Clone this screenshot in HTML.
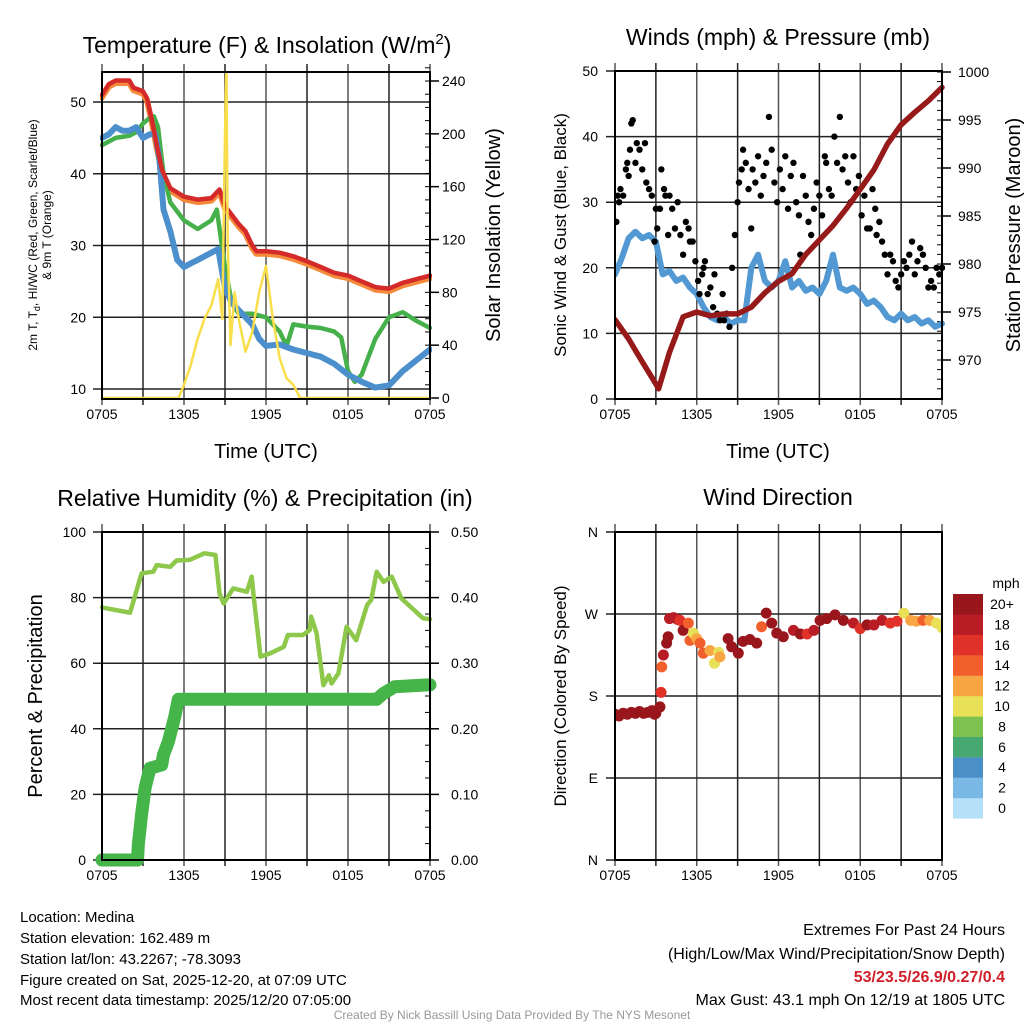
<!DOCTYPE html>
<html><head><meta charset="utf-8">
<style>
html,body{margin:0;padding:0;background:#fff;}
svg{display:block;font-family:"Liberation Sans",Arial,sans-serif;}
</style></head>
<body>
<svg id="fig" width="1024" height="1024" viewBox="0 0 1024 1024" xmlns="http://www.w3.org/2000/svg">
<rect x="0" y="0" width="1024" height="1024" fill="#fff"/>
<g font-size="23" text-anchor="middle" fill="#000">
<text x="267" y="53">Temperature (F) &amp; Insolation (W/m<tspan dy="-9" font-size="15">2</tspan><tspan dy="9">)</tspan></text>
<text x="778" y="45">Winds (mph) &amp; Pressure (mb)</text>
<text x="265" y="506">Relative Humidity (%) &amp; Precipitation (in)</text>
<text x="778" y="505">Wind Direction</text>
</g>
<g font-size="15" fill="#000">
<text x="20" y="922">Location: Medina</text>
<text x="20" y="943">Station elevation: 162.489 m</text>
<text x="20" y="964">Station lat/lon: 43.2267; -78.3093</text>
<text x="20" y="985">Figure created on Sat, 2025-12-20, at 07:09 UTC</text>
<text x="20" y="1005">Most recent data timestamp: 2025/12/20 07:05:00</text>
</g>
<g font-size="16" fill="#000" text-anchor="end">
<text x="1005" y="935">Extremes For Past 24 Hours</text>
<text x="1005" y="959">(High/Low/Max Wind/Precipitation/Snow Depth)</text>
<text x="1005" y="982" fill="#d0202a" font-weight="bold">53/23.5/26.9/0.27/0.4</text>
<text x="1005" y="1005">Max Gust: 43.1 mph On 12/19 at 1805 UTC</text>
</g>
<text x="512" y="1019" font-size="12" fill="#999" text-anchor="middle">Created By Nick Bassill Using Data Provided By The NYS Mesonet</text>
<g id="plots"></g>
</svg>
<script>
// ---------- DATA ----------
const xTickLabels = ['0705','1305','1905','0105','0705'];
// Temperature panel
const redT = [0,0.5,1,2,2.3,2.6,3,3.3,3.7,4,4.4,5,6,7,8,8.6,9,10,10.5,11,11.3,12,13,14,15,16,17,18,19,20,21,22,23,24];
const redV = [51,52.5,53,53,52,51.8,51.5,50.5,47,44,40.5,38,36.8,36.4,36.6,37.8,35.5,33,32,30,29.2,29.2,29,28.5,27.8,27,26.2,25.8,25,24.2,24,24.8,25.3,25.8];
const greenT = [0,1,2,2.5,3,3.5,3.8,4.1,4.5,5,6,7,8,8.4,9,9.5,10,11,12,13,13.5,14,15,16,17,17.5,18,18.5,19,20,21,22,23,24];
const greenV = [44,45,45.3,45.8,47,47.8,48,46.5,40,36,33.5,32.3,33.5,35,27,22,20.5,20.5,20,18,16,19,18.7,18.5,18,17.2,12.5,11,12,17,20,20.7,19.5,18.5];
const blueT = [0,0.5,1,1.5,2,2.5,3,3.5,3.9,4.2,4.5,5,5.5,6,6.5,7,7.5,8,8.5,9,9.5,10,10.5,11,11.5,12,13,14,15,16,17,18,19,20,21,22,23,24];
const blueV = [45,45.5,46.5,46,46,46.5,45,45.5,45.5,42,35,32,28,27,27.5,28,28.5,29,29.5,24,22,21,20,19,17,16,16.2,15.5,15,14.5,13.5,12,11,10.2,10.5,12.5,14,15.5];
const solarT = [0,5.6,6,6.5,7,7.5,8,8.5,8.8,9.0,9.1,9.2,9.4,9.7,10,10.5,11,11.5,12,12.5,13,13.5,14,14.5,24];
const solarV = [0,0,10,25,45,60,70,90,60,200,254,120,40,80,60,35,50,80,100,60,30,15,10,0,0];
const tempTicks = [10,20,30,40,50];
const solarTicks = [0,40,80,120,160,200,240];
// Winds panel
const presT = [0,1,2,3,3.2,4,5,6,7,8,9,10,11,12,13,14,15,16,17,18,19,20,21,22,23,24];
const presV = [974.2,972.2,969.8,967.5,967,970.8,974.5,975,974.6,974.8,974.8,975.5,977,978.2,979,981,982.5,984,985.8,987.8,989.8,992.5,994.5,995.8,997,998.4];
const windT = [0,0.5,1,1.5,2,2.5,3,3.5,4,4.5,5,5.5,6,6.5,7,7.5,8,8.5,9,9.5,10,10.5,11,11.5,12,12.5,13,13.5,14,14.5,15,15.5,16,16.5,17,17.5,18,18.5,19,19.5,20,20.5,21,21.5,22,22.5,23,23.5,24];
const windV = [19,21.5,24.5,25.5,24.5,25,24,19,19.5,18,18.5,17,16,14,12.5,12,12.5,11.5,12,12,20,22,18,17,18,21,17,18,16.5,17,16,18,22,17,16.5,17,16,14.5,15,14,12.5,12,13,12,12.5,11.5,12,11,11.5];
const gustT = [0.1,0.2,0.3,0.4,0.6,0.8,0.9,1.0,1.1,1.2,1.3,1.5,1.6,1.8,2.0,2.2,2.3,2.5,2.7,2.9,3.0,3.1,3.3,3.4,3.6,3.7,3.9,4.0,4.2,4.4,4.6,4.8,5.0,5.2,5.4,5.5,5.7,5.9,6.1,6.2,6.4,6.5,6.6,6.8,7.0,7.2,7.3,7.5,7.7,7.9,8.0,8.2,8.4,8.6,8.8,9.0,9.1,9.3,9.4,9.6,9.8,10.0,10.1,10.3,10.5,10.7,10.9,11.1,11.3,11.5,11.7,11.9,12.1,12.3,12.5,12.7,12.9,13.1,13.3,13.5,13.6,13.8,14.0,14.2,14.4,14.6,14.8,15.0,15.2,15.4,15.5,15.7,15.9,16.1,16.3,16.5,16.7,16.9,17.1,17.3,17.5,17.7,17.9,18.1,18.3,18.5,18.7,18.9,19.1,19.2,19.4,19.6,19.8,20.0,20.2,20.4,20.6,20.8,21.0,21.2,21.4,21.6,21.8,22.0,22.2,22.4,22.6,22.8,23.0,23.2,23.4,23.6,23.8,24.0];
const gustV = [27,31,30,32,31,35,36,34,38,42,42.5,36,39,38,35,39,33,32,31,24,29,26,29,35,32,31,25,31,29,26,30,25,22,27,26,24,24,21,18,16,19,20,21,16,17,14,19,13,12,16,12,13,11,20,25,30,33,35,38,36,32,26,35,33,37,31,34,36,43,38,33,30,35,32,37,29,34,36,30,28,22,34,31,27,25,29,33,31,28,37,36,32,31,40,36,43,35,37,33,30,37,32,34,28,31,26,26,32,29,25,27,24,22,19,22,21,18,17,19,21,20,22,24,19,21,23,22,20,17,18,17,20,19,20];
const windTicks = [0,10,20,30,40,50];
const presTicks = [970,975,980,985,990,995,1000];
// Humidity panel
const rhT = [0,2.05,2.4,2.9,3.75,4.0,5.0,5.46,6.4,7.5,8.3,8.6,8.9,9.6,10.6,10.95,11.1,11.6,12.3,13.3,13.6,14.7,15.2,15.3,15.7,16.2,16.6,16.8,17.3,17.9,18.6,19.4,19.7,20.1,20.6,21.2,21.9,22.7,23.5,24];
const rhV = [77,75.4,80.3,87.4,87.9,89.9,89.4,91.3,91.5,93.5,93,81.3,78.2,82.8,81.8,86.4,80.3,62,63,65,68.6,68.6,70.1,74.2,69.1,53.3,56.3,53.8,56.9,71.1,67,77.7,79.3,87.9,84.8,86.4,79.8,76.7,73.7,73.4];
const prT = [0,2.6,2.66,2.78,2.9,3.15,3.51,4.37,4.49,4.85,5.1,5.34,5.58,20.1,20.6,21.4,24];
const prV = [0,0,0.025,0.047,0.07,0.11,0.14,0.145,0.16,0.18,0.2,0.22,0.245,0.245,0.254,0.264,0.267];
const rhTicks = [0,20,40,60,80,100];
const prTicks = ['0.00','0.10','0.20','0.30','0.40','0.50'];
// Wind direction panel
const dirT = [0,0.3,0.6,0.9,1.2,1.5,1.8,2.1,2.4,2.7,2.9,3.0,3.3,3.38,3.43,3.55,3.79,3.9,4.0,4.3,4.6,4.77,5.0,5.38,5.5,5.75,6.0,6.24,6.48,6.97,7.3,7.6,7.7,8.3,8.56,9.05,9.4,9.9,10.4,10.76,11.1,11.5,11.87,12.35,13.1,13.6,14.1,14.6,15.05,15.54,16.15,16.76,17.5,18.0,18.5,19.0,19.6,20.2,20.7,21.2,21.7,22.1,22.6,23.1,23.6,24.0];
const dirV = [160,158,161,160,162,161,163,161,162,164,160,161,168,184,212,225,238,245,265,266,264,263,252,260,241,249,243,238,227,230,216,228,223,243,234,227,240,242,238,256,271,260,249,245,252,248,248,252,263,265,269,263,260,254,258,258,263,260,262,271,263,262,263,263,260,255];
const dirS = [20,20,20,20,20,20,20,20,20,20,20,20,20,16,14,18,20,20,18,18,18,16,20,14,14,10,12,14,14,12,10,10,12,20,20,20,20,20,20,14,20,20,20,20,18,20,16,18,20,20,20,20,18,16,20,18,18,16,16,10,12,12,14,12,10,10];
const dirTickLabels = ['N','E','S','W','N'];
const cbarLabels = ['0','2','4','6','8','10','12','14','16','18','20+'];
const cbarColors = ['#b5e0f7','#7ab8e6','#4a8fc6','#48a872','#7dc24e','#e8e057','#f7a643','#f1602c','#e03228','#b81c24','#99171c'];

// ---------- HELPERS ----------
const NS = 'http://www.w3.org/2000/svg';
const root = document.getElementById('plots');
function mk(tag, attrs, parent) {
  const e = document.createElementNS(NS, tag);
  for (const k in attrs) e.setAttribute(k, attrs[k]);
  (parent || root).appendChild(e);
  return e;
}
function lin(d0, d1, r0, r1) { return v => r0 + (v - d0) * (r1 - r0) / (d1 - d0); }
function pathD(ts, vs, fx, fy) { return ts.map((t, i) => (i ? 'L' : 'M') + fx(t).toFixed(1) + ',' + fy(vs[i]).toFixed(1)).join(''); }
function colorFor(s) { const i = Math.min(10, Math.max(0, Math.floor(s / 2))); return cbarColors[i]; }

function frame(x0, x1, y0, y1, name) {
  const g = mk('g', {});
  
  
  const fx = lin(0, 24, x0, x1);
  for (let h = 0; h <= 24; h += 3) {
    const x = fx(h);
    const l = mk('line', {x1: x, y1: y0 - 8, x2: x, y2: y1 + 6, stroke: h % 6 ? '#222' : '#555', 'stroke-width': 1.5}, g);
    
    
  }
  xTickLabels.forEach((s, i) => {
    const t = mk('text', {x: fx(i * 6), y: y1 + 20, 'font-size': 14, 'text-anchor': 'middle'}, g);
    t.textContent = s;
    
    
  });
  return {g, fx};
}
function border(x0, x1, y0, y1, g) {
  const r = mk('rect', {x: x0, y: y0, width: x1 - x0, height: y1 - y0, fill: 'none', stroke: '#000', 'stroke-width': 2}, g);
  
  
}
function hgrid(vals, fy, x0, x1, g, labels, lx) {
  vals.forEach((v, i) => {
    const y = fy(v);
    const l = mk('line', {x1: x0 - 9, y1: y, x2: x1, y2: y, stroke: '#222', 'stroke-width': 1.5}, g);
    
    
    const t = mk('text', {x: lx, y: y + 5, 'font-size': 14, 'text-anchor': 'end'}, g);
    t.textContent = labels ? labels[i] : v;
    
    
  });
}
function rticks(vals, fy, x1, g, lx, minorStep, lo, hi) {
  for (let v = lo; v <= hi + 1e-9; v += minorStep) {
    const y = fy(v);
    mk('line', {x1: x1 - 5, y1: y, x2: x1, y2: y, stroke: '#000', 'stroke-width': 1}, g);
  }
  vals.forEach(v => {
    const y = fy(typeof v === 'string' ? parseFloat(v) : v);
    mk('line', {x1: x1, y1: y, x2: x1 + 9, y2: y, stroke: '#000', 'stroke-width': 1.5}, g);
    const t = mk('text', {x: lx, y: y + 5, 'font-size': 14}, g);
    t.textContent = v;
    
    
  });
}
function rotText(txt, x, y, size, g, name) {
  const t = mk('text', {x: 0, y: 0, 'font-size': size, 'text-anchor': 'middle', transform: `translate(${x},${y}) rotate(-90)`}, g);
  t.textContent = txt;
  
  
  return t;
}
function axTitle(txt, x, y, g) {
  const t = mk('text', {x, y, 'font-size': 20, 'text-anchor': 'middle'}, g);
  t.textContent = txt;
  
  
}

// ---------- PANEL 1: Temperature ----------
(function () {
  const x0 = 102, x1 = 430, y0 = 72, y1 = 399;
  const {g, fx} = frame(x0, x1, y0, y1, 'temperature-panel');
  const fy = lin(10, 50, 389, 102);
  const fs = lin(0, 240, 398, 81);
  hgrid(tempTicks, fy, x0, x1, g, null, 86);
  rticks(solarTicks, fs, x1, g, 442, 10, 0, 250);
  const clip = mk('clipPath', {id: 'c1'}, g);
  mk('rect', {x: x0 - 2, y: y0, width: x1 - x0 + 4, height: y1 - y0 + 3}, clip);
  const s = mk('g', {'clip-path': 'url(#c1)', fill: 'none', 'stroke-linejoin': 'round', 'stroke-linecap': 'round'}, g);
  const orange = mk('path', {d: pathD(redT, redV.map(v => v - 0.35), fx, fy), stroke: '#f58a3a', 'stroke-width': 6}, s);
  
  
  const green = mk('path', {d: pathD(greenT, greenV, fx, fy), stroke: '#46b04a', 'stroke-width': 4.5}, s);
  
  
  const blue = mk('path', {d: pathD(blueT, blueV, fx, fy), stroke: '#4b8fcc', 'stroke-width': 6}, s);
  
  
  const red = mk('path', {d: pathD(redT, redV, fx, fy), stroke: '#d42a2a', 'stroke-width': 4.5}, s);
  
  
  const yel = mk('path', {d: pathD(solarT, solarV, fx, fs), stroke: '#f8de4a', 'stroke-width': 2.5}, s);
  
  
  border(x0, x1, y0, y1, g);
  axTitle('Time (UTC)', 266, 458, g);
  const yt = mk('text', {x: 0, y: 0, 'font-size': 12, 'text-anchor': 'middle', transform: 'translate(37,235) rotate(-90)'}, g);
  
  
  yt.innerHTML = '2m T, T<tspan font-size="9" dy="3">d</tspan><tspan dy="-3">, HI/WC (Red, Green, Scarlet/Blue)</tspan>';
  rotText('& 9m T (Orange)', 51, 235, 12, g, 'temperature-y-axis-title-line2');
  rotText('Solar Insolation (Yellow)', 500, 235, 20, g, 'solar-y-axis-title');
})();

// ---------- PANEL 2: Winds ----------
(function () {
  const x0 = 615, x1 = 942, y0 = 71, y1 = 399;
  const {g, fx} = frame(x0, x1, y0, y1, 'winds-panel');
  const fy = lin(0, 50, 399, 71);
  const fp = lin(970, 1000, 360, 72);
  hgrid(windTicks, fy, x0, x1, g, null, 598);
  rticks(presTicks, fp, x1, g, 958, 1, 967, 1000);
  const clip = mk('clipPath', {id: 'c2'}, g);
  mk('rect', {x: x0, y: y0, width: x1 - x0 + 3, height: y1 - y0}, clip);
  const s = mk('g', {'clip-path': 'url(#c2)', fill: 'none', 'stroke-linejoin': 'round', 'stroke-linecap': 'round'}, g);
  const wl = mk('path', {d: pathD(windT, windV, fx, fy), stroke: '#5299d4', 'stroke-width': 6}, s);
  
  
  gustT.forEach((t, i) => {
    const c = mk('circle', {cx: fx(t), cy: fy(gustV[i]), r: 3.2, fill: '#000'}, s);
    
    
  });
  const pl = mk('path', {d: pathD(presT, presV, fx, fp), stroke: '#971a1a', 'stroke-width': 5.5}, s);
  
  
  border(x0, x1, y0, y1, g);
  axTitle('Time (UTC)', 778, 458, g);
  rotText('Sonic Wind & Gust (Blue, Black)', 566, 235, 17, g, 'wind-y-axis-title');
  rotText('Station Pressure (Maroon)', 1020, 235, 20, g, 'pressure-y-axis-title');
})();

// ---------- PANEL 3: Humidity ----------
(function () {
  const x0 = 102, x1 = 430, y0 = 532, y1 = 860;
  const {g, fx} = frame(x0, x1, y0, y1, 'humidity-panel');
  const fy = lin(0, 100, 860, 532);
  const fpr = lin(0, 0.5, 860, 532);
  hgrid(rhTicks, fy, x0, x1, g, null, 86);
  rticks(prTicks, fpr, x1, g, 451, 0.025, 0, 0.5);
  const clip = mk('clipPath', {id: 'c3'}, g);
  mk('rect', {x: x0 - 8, y: y0, width: x1 - x0 + 16, height: y1 - y0 + 8}, clip);
  const s = mk('g', {'clip-path': 'url(#c3)', fill: 'none', 'stroke-linejoin': 'round', 'stroke-linecap': 'round'}, g);
  const rh = mk('path', {d: pathD(rhT, rhV, fx, fy), stroke: '#8dc84a', 'stroke-width': 4.5}, s);
  
  
  const pr = mk('path', {d: pathD(prT, prV, fx, fpr), stroke: '#45b549', 'stroke-width': 13}, s);
  
  
  border(x0, x1, y0, y1, g);
  rotText('Percent & Precipitation', 42, 696, 20, g, 'humidity-y-axis-title');
})();

// ---------- PANEL 4: Wind direction ----------
(function () {
  const x0 = 615, x1 = 942, y0 = 532, y1 = 860;
  const {g, fx} = frame(x0, x1, y0, y1, 'wind-direction-panel');
  const fy = lin(0, 360, 860, 532);
  hgrid([0, 90, 180, 270, 360], fy, x0, x1, g, dirTickLabels, 598);
  const clip = mk('clipPath', {id: 'c4'}, g);
  mk('rect', {x: x0, y: y0, width: x1 - x0, height: y1 - y0}, clip);
  const s = mk('g', {'clip-path': 'url(#c4)'}, g);
  dirT.forEach((t, i) => {
    const c = mk('circle', {cx: fx(t), cy: fy(dirV[i]), r: 5.5, fill: colorFor(dirS[i])}, s);
    
    
  });
  border(x0, x1, y0, y1, g);
  rotText('Direction (Colored By Speed)', 566, 696, 17, g, 'direction-y-axis-title');
  const cb = mk('g', {}, g);
  
  
  const mt = mk('text', {x: 1006, y: 588, 'font-size': 14, 'text-anchor': 'middle'}, cb);
  mt.textContent = 'mph';
  cbarLabels.forEach((lab, i) => {
    const top = 594 + (10 - i) * 20.4;
    const r = mk('rect', {x: 953, y: top, width: 30, height: 20.6, fill: cbarColors[i]}, cb);
    
    
    const t = mk('text', {x: 1002, y: top + 15, 'font-size': 14, 'text-anchor': 'middle'}, cb);
    t.textContent = lab;
    
    
  });
})();
</script>
</body></html>
